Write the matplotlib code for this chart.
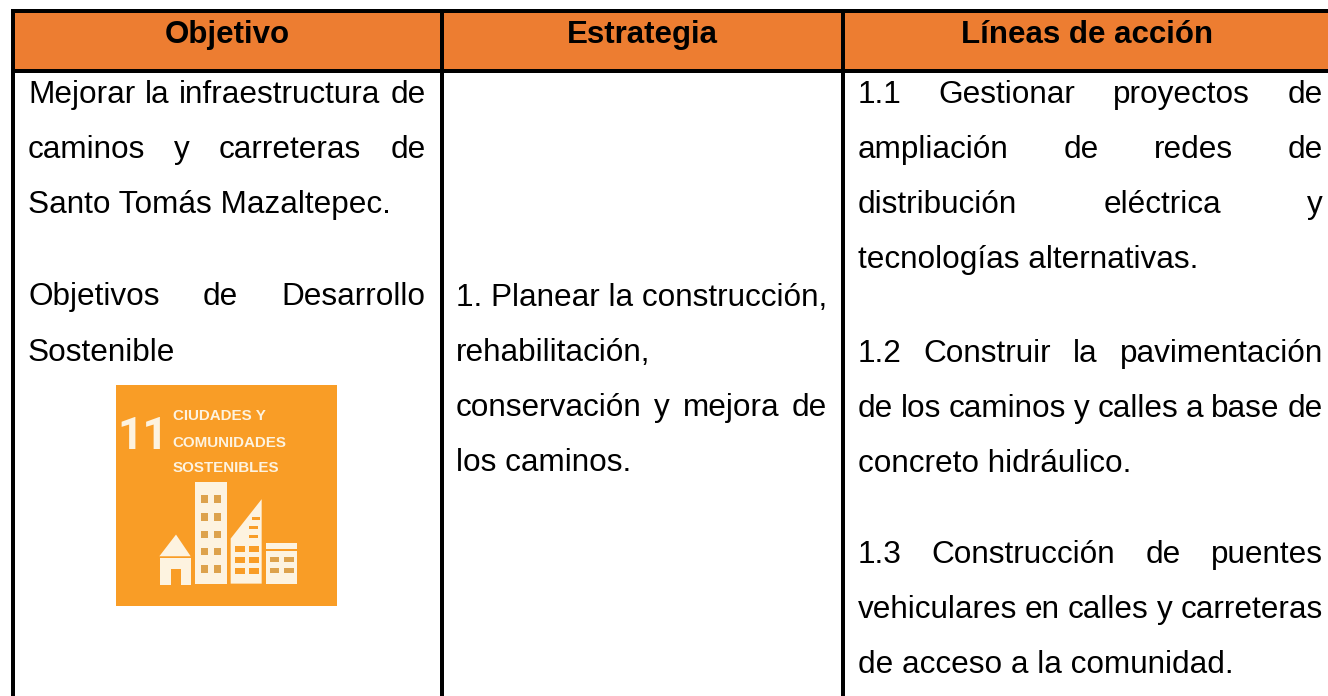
import matplotlib
matplotlib.use("Agg")
import matplotlib.pyplot as plt
from matplotlib.patches import Rectangle, Polygon
from matplotlib import font_manager as fm

headers = ["Objetivo", "Estrategia", "Líneas de acción"]
objective_lines = ["Mejorar la infraestructura de", "caminos y carreteras de",
                   "Santo Tomás Mazaltepec.", "Objetivos de Desarrollo", "Sostenible"]
strategy_lines = ["1. Planear la construcción,", "rehabilitación,",
                  "conservación y mejora de", "los caminos."]
action_lines = ["1.1 Gestionar proyectos de", "ampliación de redes de",
                "distribución eléctrica y", "tecnologías alternativas.",
                "1.2 Construir la pavimentación", "de los caminos y calles a base de",
                "concreto hidráulico.", "1.3 Construcción de puentes",
                "vehiculares en calles y carreteras", "de acceso a la comunidad."]
logo_number = "11"
logo_lines = ["CIUDADES Y", "COMUNIDADES", "SOSTENIBLES"]

W, H = 1328, 696
FONT = "Liberation Sans"
names = {f.name for f in fm.fontManager.ttflist}
NARROW = "Liberation Sans Narrow" if "Liberation Sans Narrow" in names else FONT
SIZE = 22.7
HEAD_SIZE = 22.5

fig = plt.figure(figsize=(W / 100, H / 100), dpi=100, facecolor="white")
ax = fig.add_axes([0, 0, 1, 1])
ax.set_xlim(0, W)
ax.set_ylim(H, 0)
ax.axis("off")

ax.add_patch(Rectangle((11, 9), W - 11, 64, fc="#ED7D31", ec="none"))
for x0, x1 in [(11, 15), (439.5, 443.5), (840.5, 844.5)]:
    ax.add_patch(Rectangle((x0, 9), x1 - x0, H - 9, fc="black", ec="none", zorder=3))
for y0, y1 in [(9, 13), (69, 73)]:
    ax.add_patch(Rectangle((11, y0), W - 11, y1 - y0, fc="black", ec="none", zorder=3))

for label, cx in zip(headers, [227, 642, 1087]):
    ax.text(cx, 43, label, ha="center", va="baseline", family=FONT,
            weight="bold", fontsize=HEAD_SIZE, color="black")

renderer = fig.canvas.get_renderer()


def width_of(s):
    t = ax.text(0, 0, s, family=FONT, fontsize=SIZE)
    w = t.get_window_extent(renderer).width
    t.remove()
    return w


def put_line(s, y, left, right, justify):
    if not justify:
        ax.text(left, y, s, ha="left", va="baseline", family=FONT, fontsize=SIZE, color="black")
        return
    words = s.split(" ")
    widths = [width_of(w) for w in words]
    gap = (right - left - sum(widths)) / (len(words) - 1)
    x = left
    for w, wd in zip(words, widths):
        ax.text(x, y, w, ha="left", va="baseline", family=FONT, fontsize=SIZE, color="black")
        x += wd + gap


col1 = zip(objective_lines, [103, 158, 213, 305, 361], [1, 1, 0, 1, 0])
for s, y, j in col1:
    put_line(s, y, 28, 425.5, j)
col2 = zip(strategy_lines, [306, 361, 416, 471], [0, 0, 1, 0])
for s, y, j in col2:
    put_line(s, y, 456, 827, j)
col3 = zip(action_lines, [103, 158, 213, 268, 362, 417, 472, 563, 618, 673],
           [1, 1, 1, 0, 1, 1, 0, 1, 1, 0])
for s, y, j in col3:
    put_line(s, y, 857.5, 1323, j)

# SDG 11 icon, drawn in its own 663-unit square
lg = fig.add_axes([116 / W, 1 - 606 / H, 221 / W, 221 / H])
lg.set_xlim(48, 711)
lg.set_ylim(692, 30)
lg.axis("off")
ORANGE = "#F99D26"
INK = "#FDF3E0"
WIN = "#DDA24C"
lg.add_patch(Rectangle((48, 30), 663, 662, fc=ORANGE, ec="none"))
lg.text(206, 221, logo_number, ha="right", va="baseline", family="Roboto", weight="bold",
        fontsize=32, color=INK)
for s, y in zip(logo_lines, [135, 215, 290]):
    lg.text(218, y, s, ha="left", va="baseline", family=NARROW, weight="bold",
            fontsize=10.9, color=INK)

lg.add_patch(Rectangle((285, 320), 95, 305, fc=INK, ec="none"))
for wy in [360, 414, 466, 518, 570]:
    for wx in [303, 342]:
        lg.add_patch(Rectangle((wx, wy), 22, 22, fc=WIN, ec="none"))
lg.add_patch(Polygon([(392, 490), (485, 372), (485, 625), (392, 625)], fc=INK, ec="none"))
for wy in [512, 545, 578]:
    for wx in [405, 447]:
        lg.add_patch(Rectangle((wx, wy), 30, 18, fc=ORANGE, ec="none"))
for wy, wx in [(452, 447), (478, 447), (425, 455)]:
    lg.add_patch(Rectangle((wx, wy), 26, 10, fc=ORANGE, ec="none"))
lg.add_patch(Rectangle((497, 503), 95, 122, fc=INK, ec="none"))
lg.add_patch(Rectangle((497, 521), 95, 5, fc=ORANGE, ec="none"))
for wy in [545, 578]:
    for wx in [510, 553]:
        lg.add_patch(Rectangle((wx, wy), 28, 16, fc=WIN, ec="none"))
lg.add_patch(Polygon([(178, 543), (228, 478), (272, 543)], fc=INK, ec="none"))
lg.add_patch(Rectangle((180, 547), 92, 81, fc=INK, ec="none"))
lg.add_patch(Rectangle((212, 582), 31, 46, fc=ORANGE, ec="none"))

fig.savefig("out.png", dpi=100, facecolor="white")
